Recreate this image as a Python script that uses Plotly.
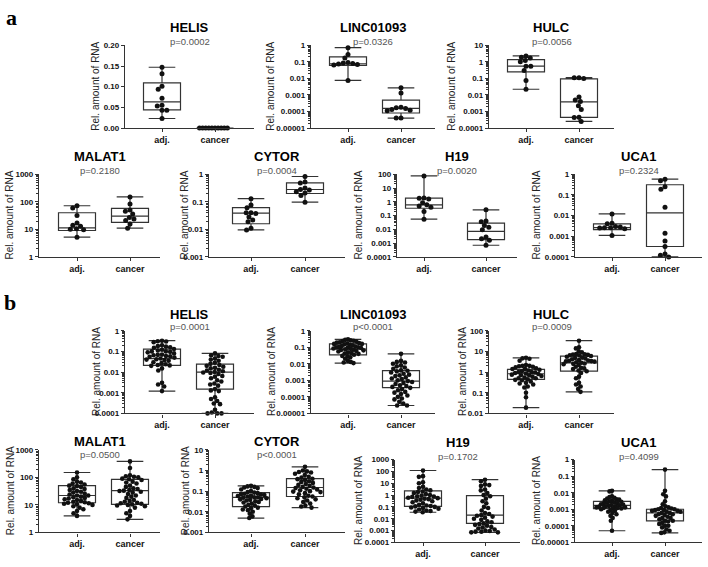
import numpy as np
import plotly.graph_objects as go

W, H = 708, 567

# ---------------- data ----------------
GROUPS = ["adj.", "cancer"]
GENES = ["HELIS", "LINC01093", "HULC", "MALAT1", "CYTOR", "H19", "UCA1"]
P_A = ["p=0.0002", "p=0.0326", "p=0.0056", "p=0.2180", "p=0.0004", "p=0.0020", "p=0.2324"]
P_B = ["p=0.0001", "p<0.0001", "p=0.0009", "p=0.0500", "p<0.0001", "p=0.1702", "p=0.4099"]

# panel a: individual samples
A_HELIS_ADJ = [0.147, 0.131, 0.101, 0.094, 0.072, 0.055, 0.053, 0.043, 0.043, 0.023]
A_HELIS_CAN = [0.0, 0.0, 0.0, 0.0, 0.0, 0.0, 0.0, 0.0, 0.0, 0.0]
A_LINC_ADJ = [0.72, 0.28, 0.17, 0.09, 0.085, 0.08, 0.075, 0.07, 0.065, 0.0075]
A_LINC_CAN = [0.0027, 0.0013, 0.00018, 0.00017, 0.00015, 0.00013, 0.00012, 0.00011, 0.00004, 0.00004]
A_HULC_ADJ = [2.3, 1.9, 1.7, 1.2, 1.0, 0.55, 0.55, 0.3, 0.075, 0.022]
A_HULC_CAN = [0.11, 0.1, 0.11, 0.0075, 0.005, 0.004, 0.0022, 0.0013, 0.00045, 0.00043, 0.00025]
A_MALAT1_ADJ = [72, 60, 32, 17, 14, 13, 10.5, 10, 9.6, 5.2]
A_MALAT1_CAN = [150, 83, 50, 45, 36, 27, 24, 21, 15.5, 11]
A_CYTOR_ADJ = [0.13, 0.076, 0.061, 0.04, 0.04, 0.038, 0.028, 0.022, 0.019, 0.011, 0.0095]
A_CYTOR_CAN = [0.83, 0.52, 0.48, 0.32, 0.28, 0.27, 0.23, 0.21, 0.17, 0.097]
A_H19_ADJ = [76, 1.85, 1.8, 1.6, 0.87, 0.6, 0.5, 0.4, 0.2, 0.055]
A_H19_CAN = [0.26, 0.04, 0.035, 0.019, 0.014, 0.0093, 0.0028, 0.0021, 0.0016, 0.0007]
A_UCA1_ADJ = [0.012, 0.0043, 0.004, 0.003, 0.0028, 0.0026, 0.0026, 0.0025, 0.0023, 0.0011]
A_UCA1_CAN = [0.58, 0.48, 0.25, 0.19, 0.025, 0.0014, 0.00059, 0.00032, 0.00014, 0.00012, 0.0001]

# panel a: box quartiles (q1, median, q3)
A_HELIS_ADJ_BOX = [0.044, 0.063, 0.109]
A_HELIS_CAN_BOX = [0.0, 0.0, 0.0]
A_LINC_ADJ_BOX = [0.061, 0.077, 0.20]
A_LINC_CAN_BOX = [0.000081, 0.000155, 0.00048]
A_HULC_ADJ_BOX = [0.25, 0.55, 1.38]
A_HULC_CAN_BOX = [0.00044, 0.0038, 0.093]
A_MALAT1_ADJ_BOX = [9.1, 11.4, 40]
A_MALAT1_CAN_BOX = [18, 30, 58]
A_CYTOR_ADJ_BOX = [0.016, 0.039, 0.061]
A_CYTOR_CAN_BOX = [0.2, 0.28, 0.49]
A_H19_ADJ_BOX = [0.34, 0.59, 1.86]
A_H19_CAN_BOX = [0.0018, 0.0071, 0.028]
A_UCA1_ADJ_BOX = [0.0021, 0.0026, 0.004]
A_UCA1_CAN_BOX = [0.00032, 0.0134, 0.31]

# panel b: individual samples
B_HELIS_ADJ = [0.33, 0.31, 0.30, 0.28, 0.20, 0.18, 0.17, 0.16, 0.15, 0.13, 0.12, 0.11, 0.10, 0.10,
               0.095, 0.09, 0.08, 0.07, 0.068, 0.065, 0.06, 0.058, 0.055, 0.05, 0.045, 0.042, 0.04,
               0.038, 0.035, 0.03, 0.027, 0.024, 0.022, 0.021, 0.02, 0.015, 0.012, 0.003, 0.0025,
               0.002, 0.0012]
B_HELIS_CAN = [0.08, 0.065, 0.06, 0.055, 0.045, 0.04, 0.035, 0.028, 0.025, 0.022, 0.02, 0.018,
               0.016, 0.015, 0.013, 0.012, 0.011, 0.01, 0.0095, 0.009, 0.008, 0.0065, 0.006, 0.005,
               0.004, 0.0035, 0.0028, 0.0025, 0.0022, 0.0015, 0.0013, 0.0012, 0.0006, 0.0005,
               0.0004, 0.0003, 0.00028, 0.00015, 0.00011, 0.0001, 0.0001, 0.0001]
B_LINC_ADJ = [0.30, 0.28, 0.26, 0.25, 0.24, 0.22, 0.20, 0.19, 0.18, 0.17, 0.16, 0.16, 0.15, 0.14,
              0.13, 0.12, 0.11, 0.105, 0.10, 0.10, 0.095, 0.09, 0.085, 0.08, 0.075, 0.07, 0.068,
              0.065, 0.06, 0.055, 0.05, 0.045, 0.042, 0.04, 0.035, 0.03, 0.028, 0.025, 0.02, 0.015,
              0.013, 0.012, 0.011]
B_LINC_CAN = [0.04, 0.015, 0.013, 0.012, 0.01, 0.008, 0.007, 0.006, 0.005, 0.004, 0.0038, 0.0035,
              0.003, 0.0025, 0.0022, 0.002, 0.0018, 0.0015, 0.0013, 0.0012, 0.001, 0.0009, 0.0008,
              0.0007, 0.0006, 0.0005, 0.00045, 0.0004, 0.00035, 0.0003, 0.00025, 0.0002, 0.00018,
              0.00015, 0.00012, 0.0001, 0.00008, 0.00007, 0.00005, 0.00004, 0.00003, 0.00003]
B_HULC_ADJ = [4.9, 4.6, 4.4, 3.5, 2.2, 2.0, 2.0, 1.9, 1.8, 1.7, 1.5, 1.4, 1.4, 1.3, 1.2, 1.1, 1.0,
              1.0, 0.95, 0.9, 0.85, 0.8, 0.75, 0.7, 0.7, 0.65, 0.6, 0.55, 0.5, 0.5, 0.45, 0.42, 0.4,
              0.35, 0.3, 0.28, 0.25, 0.2, 0.18, 0.1, 0.06, 0.019]
B_HULC_CAN = [33, 16, 14, 10, 9, 7.5, 7.2, 7.0, 6.8, 6.5, 6.3, 6.0, 5.5, 5.0, 4.8, 4.5, 4.2, 3.8,
              3.6, 3.5, 3.4, 3.3, 3.2, 3.0, 2.8, 2.6, 2.5, 2.4, 2.2, 1.8, 1.6, 1.5, 1.4, 1.2, 1.1,
              0.9, 0.6, 0.5, 0.3, 0.25, 0.2, 0.15, 0.11]
B_MALAT1_ADJ = [150, 100, 85, 70, 65, 60, 55, 50, 48, 45, 40, 38, 35, 32, 30, 28, 26, 24, 22, 22,
                20, 19, 18, 17, 16, 15, 14, 13, 12.5, 12, 11.5, 11, 10.5, 10, 9, 8, 7, 6, 5, 4]
B_MALAT1_CAN = [380, 220, 120, 110, 105, 100, 90, 85, 80, 70, 65, 60, 50, 45, 40, 38, 35, 33, 32,
                30, 28, 25, 22, 20, 18, 15, 14, 13, 12, 11.5, 11, 10.5, 10, 9.5, 9, 8, 6, 5, 4, 3]
B_CYTOR_ADJ = [0.18, 0.17, 0.16, 0.15, 0.14, 0.12, 0.1, 0.09, 0.085, 0.08, 0.075, 0.07, 0.068,
               0.065, 0.06, 0.058, 0.055, 0.05, 0.05, 0.048, 0.045, 0.042, 0.04, 0.038, 0.035,
               0.032, 0.03, 0.028, 0.025, 0.022, 0.02, 0.018, 0.016, 0.015, 0.013, 0.012, 0.01,
               0.008, 0.006, 0.005]
B_CYTOR_CAN = [1.5, 1.0, 0.9, 0.85, 0.8, 0.7, 0.6, 0.5, 0.45, 0.4, 0.38, 0.35, 0.3, 0.28, 0.25,
               0.22, 0.2, 0.18, 0.16, 0.15, 0.14, 0.13, 0.12, 0.11, 0.1, 0.095, 0.09, 0.08, 0.07,
               0.06, 0.055, 0.05, 0.045, 0.04, 0.035, 0.03, 0.025, 0.02, 0.018, 0.016]
B_H19_ADJ = [120, 40, 35, 12, 10, 5, 4, 3, 2.5, 2, 1.8, 1.5, 1.2, 1.0, 0.9, 0.8, 0.75, 0.7, 0.6,
             0.55, 0.5, 0.45, 0.4, 0.35, 0.3, 0.25, 0.2, 0.15, 0.13, 0.12, 0.11, 0.1, 0.09, 0.08,
             0.07, 0.06, 0.05, 0.045, 0.04, 0.035]
B_H19_CAN = [20, 15, 8, 7, 6, 3, 2.5, 1.5, 1.0, 0.8, 0.5, 0.3, 0.2, 0.1, 0.08, 0.05, 0.03, 0.025,
             0.02, 0.018, 0.015, 0.012, 0.01, 0.008, 0.006, 0.005, 0.004, 0.0035, 0.003, 0.0025,
             0.002, 0.0018, 0.0015, 0.0012, 0.001, 0.0009, 0.0008, 0.0008, 0.0007, 0.0007]
B_UCA1_ADJ = [0.013, 0.012, 0.006, 0.0055, 0.005, 0.0045, 0.004, 0.0038, 0.0035, 0.0032, 0.003,
              0.0028, 0.0026, 0.0025, 0.0023, 0.0022, 0.002, 0.0019, 0.0018, 0.0017, 0.0016,
              0.0015, 0.0015, 0.0014, 0.0013, 0.0013, 0.0012, 0.0012, 0.0011, 0.0011, 0.001,
              0.0009, 0.0008, 0.0007, 0.0006, 0.0005, 0.0004, 0.0003, 0.0002, 0.00005]
B_UCA1_CAN = [0.25, 0.013, 0.008, 0.006, 0.003, 0.002, 0.0015, 0.0013, 0.0012, 0.0011, 0.001,
              0.001, 0.0009, 0.0009, 0.0008, 0.0008, 0.0007, 0.0007, 0.0006, 0.0006, 0.0005,
              0.0005, 0.00045, 0.0004, 0.00035, 0.0003, 0.0003, 0.00025, 0.0002, 0.0002, 0.00018,
              0.00015, 0.00013, 0.0001, 0.0001, 0.00008, 0.00006, 0.00005, 0.00004, 0.000037]

# panel b: box quartiles (q1, median, q3)
B_HELIS_ADJ_BOX = [0.021, 0.045, 0.13]
B_HELIS_CAN_BOX = [0.0015, 0.01, 0.024]
B_LINC_ADJ_BOX = [0.035, 0.077, 0.16]
B_LINC_CAN_BOX = [0.00036, 0.00089, 0.0039]
B_HULC_ADJ_BOX = [0.44, 0.83, 1.35]
B_HULC_CAN_BOX = [1.1, 2.8, 5.9]
B_MALAT1_ADJ_BOX = [12, 22, 50]
B_MALAT1_CAN_BOX = [10.5, 33, 85]
B_CYTOR_ADJ_BOX = [0.018, 0.05, 0.085]
B_CYTOR_CAN_BOX = [0.055, 0.15, 0.4]
B_H19_ADJ_BOX = [0.11, 0.55, 2.3]
B_H19_CAN_BOX = [0.004, 0.02, 0.9]
B_UCA1_ADJ_BOX = [0.0011, 0.0017, 0.003]
B_UCA1_CAN_BOX = [0.0002, 0.0006, 0.001]

# axis scales (log10 exponent ranges; None = linear 0..0.2)
A_YEXP = [None, (-5, 0), (-4, 1), (0, 3), (-3, 0), (-4, 2), (-4, 0)]
B_YEXP = [(-4, 0), (-5, 0), (-2, 2), (0, 3), (-3, 1), (-4, 3), (-5, 0)]
LIN_RANGE = [0.0, 0.2]
LIN_TICKS = [0.0, 0.05, 0.10, 0.15, 0.20]
LIN_TICKTEXT = ["0.00", "0.05", "0.10", "0.15", "0.20"]
DECADES = [-5, -4, -3, -2, -1, 0, 1, 2, 3]
DECADE_TEXT = ["0.00001", "0.0001", "0.001", "0.01", "0.1", "1", "10", "100", "1000"]

A_POINTS = [(A_HELIS_ADJ, A_HELIS_CAN), (A_LINC_ADJ, A_LINC_CAN), (A_HULC_ADJ, A_HULC_CAN),
            (A_MALAT1_ADJ, A_MALAT1_CAN), (A_CYTOR_ADJ, A_CYTOR_CAN), (A_H19_ADJ, A_H19_CAN),
            (A_UCA1_ADJ, A_UCA1_CAN)]
A_BOXES = [(A_HELIS_ADJ_BOX, A_HELIS_CAN_BOX), (A_LINC_ADJ_BOX, A_LINC_CAN_BOX),
           (A_HULC_ADJ_BOX, A_HULC_CAN_BOX), (A_MALAT1_ADJ_BOX, A_MALAT1_CAN_BOX),
           (A_CYTOR_ADJ_BOX, A_CYTOR_CAN_BOX), (A_H19_ADJ_BOX, A_H19_CAN_BOX),
           (A_UCA1_ADJ_BOX, A_UCA1_CAN_BOX)]
B_POINTS = [(B_HELIS_ADJ, B_HELIS_CAN), (B_LINC_ADJ, B_LINC_CAN), (B_HULC_ADJ, B_HULC_CAN),
            (B_MALAT1_ADJ, B_MALAT1_CAN), (B_CYTOR_ADJ, B_CYTOR_CAN), (B_H19_ADJ, B_H19_CAN),
            (B_UCA1_ADJ, B_UCA1_CAN)]
B_BOXES = [(B_HELIS_ADJ_BOX, B_HELIS_CAN_BOX), (B_LINC_ADJ_BOX, B_LINC_CAN_BOX),
           (B_HULC_ADJ_BOX, B_HULC_CAN_BOX), (B_MALAT1_ADJ_BOX, B_MALAT1_CAN_BOX),
           (B_CYTOR_ADJ_BOX, B_CYTOR_CAN_BOX), (B_H19_ADJ_BOX, B_H19_CAN_BOX),
           (B_UCA1_ADJ_BOX, B_UCA1_CAN_BOX)]

# ---------------- layout geometry (px) ----------------
# x0, x1, ytop, ybot, first-category offset, category spacing, y-title x, title y, p y
GEOM_A = [
    (125, 254, 42, 126, 37, 53, 96, 24, 38),
    (311, 435, 42, 126, 37, 53, 271, 24, 38),
    (489, 614, 42, 126, 37, 53, 452, 24, 38),
    (39, 160, 173, 257, 38, 53, 10, 155, 169),
    (209, 345, 173, 257, 42, 54, 185, 155, 169),
    (397, 517, 173, 257, 27, 62, 359, 155, 169),
    (575, 702, 173, 257, 37, 53, 537, 155, 169),
]
GEOM_B = [
    (125, 254, 332, 416, 37, 53, 96, 315, 328),
    (311, 435, 332, 416, 37, 53, 271, 315, 328),
    (489, 614, 332, 416, 37, 53, 462, 315, 328),
    (39, 160, 453, 537, 38, 53, 10, 445, 458),
    (209, 345, 453, 537, 42, 54, 185, 445, 458),
    (395, 520, 463, 547, 28, 62, 359, 446, 460),
    (575, 702, 463, 547, 37, 53, 537, 446, 460),
]

FONT = "Liberation Sans, Arial, sans-serif"
TICKFONT = "Liberation Sans Narrow, Arial Narrow, Liberation Sans, sans-serif"
AX = "#333333"
BOXPX = 37.0
SPREAD_LIMIT = 15.5          # max half-width of a dot cloud (px)
DOT_A, GAP_A = 5.0, 4.8      # marker size / dot spacing, panel a
DOT_B, GAP_B = 4.6, 4.3      # marker size / dot spacing, panel b


def swarm(ypx, d, lim):
    """beeswarm offsets (px); cloud squeezed to +-lim like GraphPad scatter"""
    ypx = np.asarray(ypx, dtype=float)
    xs = np.zeros(len(ypx))
    placed = []
    for i in np.argsort(ypx, kind="stable"):
        y = ypx[i]
        cands = [0.0]
        for px, py in placed:
            dy = abs(py - y)
            if dy < d:
                dx = np.sqrt(d * d - dy * dy)
                cands += [px + dx, px - dx]
        cands.sort(key=lambda c: (round(abs(c), 6), c))
        for c in cands:
            if all((c - px) ** 2 + (y - py) ** 2 >= d * d - 1e-6 for px, py in placed):
                xs[i] = c
                break
        placed.append((xs[i], y))
    m = np.abs(xs).max() if len(xs) else 0
    if m > lim:
        xs = xs * lim / m
    return xs


fig = go.Figure()
layout = {}
annotations = []


def px2paper_x(x):
    return x / W


def px2paper_y(y):
    return 1 - y / H


n = 0
for geoms, yexps, points, boxes, pvals, dot, gap in [
        (GEOM_A, A_YEXP, A_POINTS, A_BOXES, P_A, DOT_A, GAP_A),
        (GEOM_B, B_YEXP, B_POINTS, B_BOXES, P_B, DOT_B, GAP_B)]:
    for k in range(7):
        n += 1
        x0, x1, yt, yb, off, sp, ytx, ty, py = geoms[k]
        xr0 = -off / sp
        xr1 = xr0 + (x1 - x0) / sp
        yexp = yexps[k]
        xname = "x" if n == 1 else f"x{n}"
        yname = "y" if n == 1 else f"y{n}"

        for g in range(2):
            vals = np.asarray(points[k][g], dtype=float)
            q1, med, q3 = boxes[k][g]
            fig.add_trace(go.Box(
                x=[g], q1=[q1], median=[med], q3=[q3],
                lowerfence=[vals.min()], upperfence=[vals.max()],
                width=BOXPX / sp, whiskerwidth=0.72,
                line=dict(color=AX, width=1.2), fillcolor="rgba(0,0,0,0)",
                boxpoints=False, showlegend=False, hoverinfo="skip",
                xaxis=xname, yaxis=yname))
            if yexp is None:
                frac = (vals - LIN_RANGE[0]) / (LIN_RANGE[1] - LIN_RANGE[0])
            else:
                frac = (np.log10(vals) - yexp[0]) / (yexp[1] - yexp[0])
            ypx = yb - frac * (yb - yt)
            offs = swarm(ypx, gap, SPREAD_LIMIT)
            fig.add_trace(go.Scatter(
                x=g + offs / sp, y=vals, mode="markers",
                marker=dict(size=dot, color="#111111", line=dict(width=0)),
                cliponaxis=False, showlegend=False, hoverinfo="skip",
                xaxis=xname, yaxis=yname))

        xa = dict(domain=[px2paper_x(x0), px2paper_x(x1)], range=[xr0, xr1], anchor=yname,
                  tickmode="array", tickvals=[0, 1], ticktext=GROUPS,
                  ticks="outside", ticklen=3, tickwidth=1, tickcolor=AX,
                  showline=True, linecolor=AX, linewidth=1.3, showgrid=False, zeroline=False,
                  tickfont=dict(family=FONT, size=9, color="#111111", weight="bold"))
        ya = dict(domain=[px2paper_y(yb), px2paper_y(yt)], anchor=xname,
                  ticks="outside", ticklen=3, tickwidth=1, tickcolor=AX,
                  showline=True, linecolor=AX, linewidth=1.3, showgrid=False, zeroline=False,
                  tickfont=dict(family=TICKFONT, size=8, color="#111111", weight="bold"))
        if yexp is None:
            ya.update(type="linear", range=LIN_RANGE, tickmode="array",
                      tickvals=LIN_TICKS, ticktext=LIN_TICKTEXT)
        else:
            tv = [10.0 ** e for e in DECADES if yexp[0] <= e <= yexp[1]]
            tt = [t for e, t in zip(DECADES, DECADE_TEXT) if yexp[0] <= e <= yexp[1]]
            ya.update(type="log", range=list(yexp), tickmode="array", tickvals=tv, ticktext=tt,
                      minor=dict(ticks="outside", ticklen=2, tickwidth=0.8, tickcolor=AX,
                                 dtick="D1", showgrid=False))
        layout["xaxis" if n == 1 else f"xaxis{n}"] = xa
        layout["yaxis" if n == 1 else f"yaxis{n}"] = ya

        cx = (x0 + x1) / 2
        annotations.append(dict(text=f"<b>{GENES[k]}</b>", x=px2paper_x(cx), y=px2paper_y(ty),
                                xref="paper", yref="paper", xanchor="center", yanchor="middle",
                                showarrow=False, font=dict(family=FONT, size=13, color="#000000")))
        annotations.append(dict(text=pvals[k], x=px2paper_x(cx), y=px2paper_y(py),
                                xref="paper", yref="paper", xanchor="center", yanchor="middle",
                                showarrow=False, font=dict(family=FONT, size=9.5, color="#555555")))
        annotations.append(dict(text="Rel. amount of RNA", x=px2paper_x(ytx),
                                y=px2paper_y((yt + yb) / 2), xref="paper", yref="paper",
                                xanchor="center", yanchor="middle", textangle=-90,
                                showarrow=False, font=dict(family=FONT, size=10, color="#222222")))

for letter, lx, ly in [("a", 11, 14), ("b", 10, 303)]:
    annotations.append(dict(text=f"<b>{letter}</b>", x=px2paper_x(lx), y=px2paper_y(ly),
                            xref="paper", yref="paper", xanchor="center", yanchor="middle",
                            showarrow=False,
                            font=dict(family="Liberation Serif, Times New Roman, serif",
                                      size=22, color="#000000")))

fig.update_layout(width=W, height=H, margin=dict(l=0, r=0, t=0, b=0),
                  paper_bgcolor="white", plot_bgcolor="white",
                  annotations=annotations, showlegend=False, **layout)

fig.write_html("out.html", config={"displayModeBar": False},
               post_script="document.body.style.margin='0';")
